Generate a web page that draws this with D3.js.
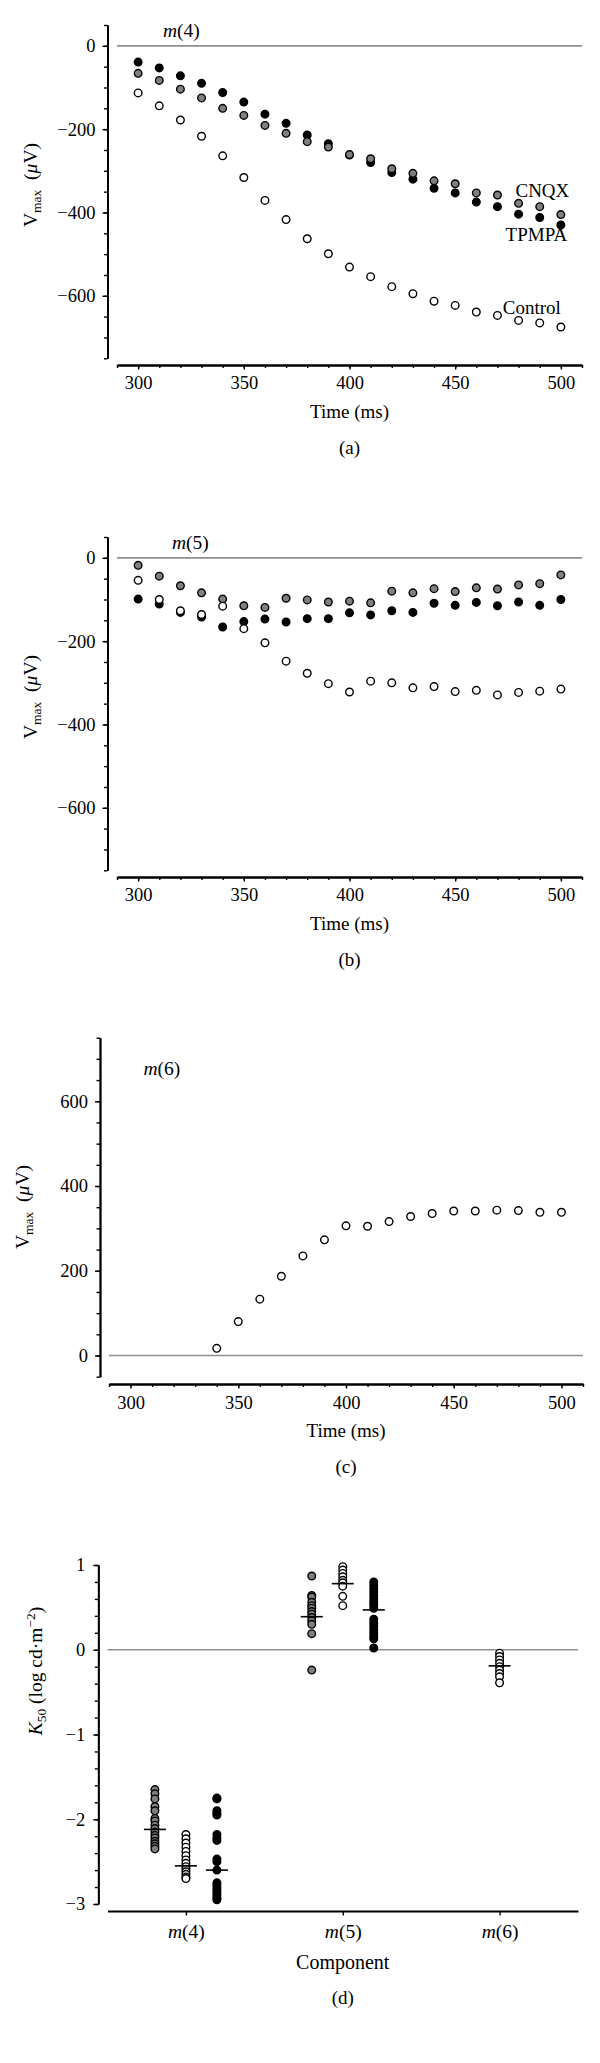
<!DOCTYPE html>
<html><head><meta charset="utf-8">
<script src="https://cdn.jsdelivr.net/npm/d3@7"></script>
<style>
body{margin:0;background:#fff}
svg{display:block}
text{font-family:"Liberation Serif","Times New Roman",serif;fill:#000}
</style></head><body>
<svg id="chart" width="600" height="2063"></svg>
<script>
// ---------- DATA ----------
const timesAB = [300,310,320,330,340,350,360,370,380,390,400,410,420,430,440,450,460,470,480,490,500];
const m4Control = [-113,-144,-178,-217,-264,-316,-371,-417,-463,-499,-531,-554,-578,-595,-613,-623,-639,-647,-659,-665,-675];
const m4CNQX    = [-66,-83,-104,-125,-150,-167,-191,-210,-230,-243,-261,-271,-295,-306,-324,-331,-353,-358,-378,-386,-405];
const m4TPMPA   = [-39,-53,-72,-90,-112,-135,-164,-186,-214,-235,-262,-280,-304,-320,-342,-353,-375,-386,-404,-412,-430];
const m5Control = [-54,-100,-127,-136,-116,-170,-204,-248,-277,-302,-322,-296,-300,-312,-309,-321,-318,-329,-323,-320,-315];
const m5CNQX    = [-18,-44,-67,-84,-99,-115,-119,-97,-101,-106,-104,-108,-80,-84,-74,-81,-72,-75,-65,-62,-41];
const m5TPMPA   = [-99,-111,-131,-142,-166,-153,-147,-154,-146,-146,-132,-137,-127,-131,-109,-114,-107,-115,-106,-114,-100];
const timesC    = [340,350,360,370,380,390,400,410,420,430,440,450,460,470,480,490,500];
const m6Control = [17,80,133,187,235,273,306,305,316,328,335,341,341,343,342,338,338];

const components = ["m(4)","m(5)","m(6)"];
const conditions = ["CNQX","Control","TPMPA"];
const m4K50CNQX    = [-1.65,-1.70,-1.76,-1.85,-1.90,-1.99,-2.02,-2.07,-2.11,-2.15,-2.19,-2.22,-2.26,-2.29,-2.32,-2.35];
const m4K50Control = [-2.18,-2.23,-2.28,-2.33,-2.38,-2.43,-2.48,-2.52,-2.56,-2.59,-2.62,-2.65,-2.68,-2.70];
const m4K50TPMPA   = [-1.75,-1.76,-1.90,-1.93,-1.95,-2.18,-2.22,-2.25,-2.47,-2.50,-2.60,-2.75,-2.78,-2.81,-2.84,-2.87,-2.90,-2.93,-2.95];
const m5K50CNQX    = [0.87,0.64,0.62,0.56,0.52,0.49,0.45,0.42,0.38,0.34,0.30,0.19,-0.24];
const m5K50Control = [0.98,0.94,0.90,0.86,0.82,0.79,0.75,0.63,0.52];
const m5K50TPMPA   = [0.80,0.76,0.72,0.68,0.64,0.60,0.56,0.53,0.49,0.36,0.32,0.28,0.24,0.20,0.16,0.13,0.02];
const m6K50Control = [-0.04,-0.08,-0.12,-0.16,-0.20,-0.24,-0.28,-0.32,-0.39];
const m4K50Medians = [-2.12,-2.55,-2.60];
const m5K50Medians = [0.39,0.78,0.47];
const m6K50Medians = [null,-0.19,null];

const xTimeMajor = [300,350,400,450,500];
const xTimeMinor = [290,300,310,320,330,340,350,360,370,380,390,400,410,420,430,440,450,460,470,480,490,500,510];
const yNegMajor = [0,-200,-400,-600];
const yNegMinor = [50,0,-50,-100,-150,-200,-250,-300,-350,-400,-450,-500,-550,-600,-650,-700,-750];
const yPosMajor = [0,200,400,600];
const yPosMinor = [-50,0,50,100,150,200,250,300,350,400,450,500,550,600,650,700,750];
const yKMajor = [1,0,-1,-2,-3];
const yKMinor = [1,0.8,0.6,0.4,0.2,0,-0.2,-0.4,-0.6,-0.8,-1,-1.2,-1.4,-1.6,-1.8,-2,-2.2,-2.4,-2.6,-2.8,-3];

// ---------- STYLE ----------
const FILL = {CNQX:"#7f7f7f", Control:"#ffffff", TPMPA:"#000000"};
const R = 3.8, SW = 1.4;
const SERIF = '"Liberation Serif","Times New Roman",serif';
const svg = d3.select("#chart");

function styleAxis(g, fs){
  g.attr("font-family", SERIF);
  g.select(".domain").attr("stroke","#000").attr("stroke-width",1.8);
  g.selectAll(".tick line").attr("stroke","#000").attr("stroke-width",1.4);
  g.selectAll(".tick text").style("font-size",fs+"px").style("font-family",SERIF).attr("fill","#000");
}

function mLabel(g, x, y, txt){
  const t = g.append("text").attr("x",x).attr("y",y).style("font-size","19.5px");
  t.append("tspan").style("font-style","italic").text("m");
  t.append("tspan").text(txt);
}

function vLabel(g, x, y){
  const t = g.append("text").attr("transform",`translate(${x},${y}) rotate(-90)`)
    .attr("text-anchor","middle").style("font-size","19.5px");
  t.append("tspan").text("V");
  t.append("tspan").attr("dy",4).style("font-size","13.5px").text("max");
  t.append("tspan").attr("dy",-4).text("\u2002(");
  t.append("tspan").style("font-style","italic").text("\u03bc");
  t.append("tspan").text("V)");
}

function timePanel(cfg){
  const g = svg.append("g");
  const x = d3.scaleLinear().domain([290,510]).range([cfg.x0,cfg.x1]);
  const y = d3.scaleLinear().domain(cfg.yDomain).range([cfg.yBottom,cfg.yTop]);
  g.append("line").attr("x1",x(290)).attr("x2",x(510)).attr("y1",y(0)).attr("y2",y(0))
    .attr("stroke","#8f8f8f").attr("stroke-width",1.7);
  // y axis
  const ya = g.append("g").attr("transform",`translate(${cfg.yAxisX},0)`);
  ya.append("g").call(d3.axisLeft(y).tickValues(cfg.yMinor).tickSize(3.5).tickSizeOuter(0).tickFormat("")).call(s=>styleAxis(s,18.5));
  ya.append("g").call(d3.axisLeft(y).tickValues(cfg.yMajor).tickSize(5).tickSizeOuter(0).tickPadding(7).tickFormat(d3.format("d"))).call(s=>styleAxis(s,18.5));
  // x axis
  const xa = g.append("g").attr("transform",`translate(0,${cfg.xAxisY})`);
  xa.append("g").call(d3.axisBottom(x).tickValues(xTimeMinor).tickSize(3).tickSizeOuter(0).tickFormat("")).call(s=>styleAxis(s,18.5));
  xa.append("g").call(d3.axisBottom(x).tickValues(xTimeMajor).tickSize(4.5).tickSizeOuter(0).tickPadding(cfg.xPad).tickFormat(d3.format("d"))).call(s=>styleAxis(s,18.5));
  // series
  cfg.series.forEach(s=>{
    g.append("g").selectAll("circle").data(s.values.map((v,i)=>[s.times[i],v])).join("circle")
      .attr("cx",d=>x(d[0])).attr("cy",d=>y(d[1])).attr("r",R)
      .attr("fill",FILL[s.name]).attr("stroke","#000").attr("stroke-width",SW);
  });
  (cfg.notes||[]).forEach(n=>{
    g.append("text").attr("x",x(n.t)).attr("y",y(n.v)).attr("text-anchor","end").style("font-size","19px").text(n.name);
  });
  mLabel(g, cfg.mX, cfg.mY, cfg.mTxt);
  vLabel(g, cfg.vX, cfg.vY);
  const cx = (cfg.x0+cfg.x1)/2;
  g.append("text").attr("x",cx).attr("y",cfg.xAxisY+53).attr("text-anchor","middle").style("font-size","19px").text("Time (ms)");
  g.append("text").attr("x",cx).attr("y",cfg.xAxisY+89).attr("text-anchor","middle").style("font-size","19px").text(cfg.letter);
}

timePanel({x0:117,x1:582,yTop:25,yBottom:358.3,yDomain:[-750,50],yAxisX:107.5,xAxisY:365,xPad:6,
  yMajor:yNegMajor,yMinor:yNegMinor,
  series:[{name:"TPMPA",times:timesAB,values:m4TPMPA},{name:"CNQX",times:timesAB,values:m4CNQX},{name:"Control",times:timesAB,values:m4Control}],
  notes:[{name:"CNQX",t:504,v:-362},{name:"TPMPA",t:503,v:-468},{name:"Control",t:500,v:-643}],
  mX:163,mY:37,mTxt:"(4)",vX:37,vY:185,letter:"(a)"});

timePanel({x0:117,x1:582,yTop:537,yBottom:870.3,yDomain:[-750,50],yAxisX:107.5,xAxisY:877,xPad:6,
  yMajor:yNegMajor,yMinor:yNegMinor,
  series:[{name:"TPMPA",times:timesAB,values:m5TPMPA},{name:"CNQX",times:timesAB,values:m5CNQX},{name:"Control",times:timesAB,values:m5Control}],
  mX:172,mY:549,mTxt:"(5)",vX:37,vY:697,letter:"(b)"});

timePanel({x0:109,x1:583,yTop:1037.7,yBottom:1376.7,yDomain:[-50,750],yAxisX:100,xAxisY:1384,xPad:7,
  yMajor:yPosMajor,yMinor:yPosMinor,
  series:[{name:"Control",times:timesC,values:m6Control}],
  mX:143.5,mY:1075,mTxt:"(6)",vX:29,vY:1207,letter:"(c)"});

// ---------- PANEL (d) ----------
(function(){
  const g = svg.append("g");
  const x = d3.scalePoint().domain(components).range([107.5,578]).padding(0.5);
  const y = d3.scaleLinear().domain([-3,1]).range([1904,1565]);
  g.append("line").attr("x1",107.5).attr("x2",578).attr("y1",y(0)).attr("y2",y(0)).attr("stroke","#8f8f8f").attr("stroke-width",1.7);
  const ya = g.append("g").attr("transform","translate(98.3,0)");
  ya.append("g").call(d3.axisLeft(y).tickValues(yKMinor).tickSize(3.5).tickSizeOuter(0).tickFormat("")).call(s=>styleAxis(s,18.5));
  ya.append("g").call(d3.axisLeft(y).tickValues(yKMajor).tickSize(5).tickSizeOuter(0).tickPadding(8).tickFormat(d3.format("d"))).call(s=>styleAxis(s,18.5));
  const xa = g.append("g").attr("transform","translate(0,1911)");
  xa.call(d3.axisBottom(x).tickSize(4.5).tickSizeOuter(0).tickPadding(9).tickFormat("")).call(s=>styleAxis(s,18.5));
  xa.selectAll(".tick").each(function(d){
    const t = d3.select(this).append("text").attr("y",27).attr("text-anchor","middle")
      .style("font-size","19.5px").style("font-family",SERIF).attr("fill","#000");
    t.append("tspan").style("font-style","italic").text("m");
    t.append("tspan").text(d.slice(1));
  });
  const offs = d3.scalePoint().domain(conditions).range([-31,31]);
  const groups = [
    {c:"m(4)",cond:"CNQX",vals:m4K50CNQX},{c:"m(4)",cond:"Control",vals:m4K50Control},{c:"m(4)",cond:"TPMPA",vals:m4K50TPMPA},
    {c:"m(5)",cond:"CNQX",vals:m5K50CNQX},{c:"m(5)",cond:"Control",vals:m5K50Control},{c:"m(5)",cond:"TPMPA",vals:m5K50TPMPA},
    {c:"m(6)",cond:"Control",vals:m6K50Control}
  ];
  groups.forEach(gr=>{
    const cx = x(gr.c)+offs(gr.cond);
    g.append("g").selectAll("circle").data(gr.vals).join("circle")
      .attr("cx",cx).attr("cy",d=>y(d)).attr("r",R)
      .attr("fill",FILL[gr.cond]).attr("stroke","#000").attr("stroke-width",SW);
  });
  const meds = [["m(4)",m4K50Medians],["m(5)",m5K50Medians],["m(6)",m6K50Medians]];
  meds.forEach(([c,arr])=>{
    arr.forEach((m,i)=>{
      if(m===null) return;
      const cx = x(c)+offs(conditions[i]);
      g.append("line").attr("x1",cx-11).attr("x2",cx+11).attr("y1",y(m)).attr("y2",y(m)).attr("stroke","#000").attr("stroke-width",1.6);
    });
  });
  // y label
  const t = g.append("text").attr("transform","translate(42,1671) rotate(-90)").attr("text-anchor","middle").style("font-size","19.5px");
  t.append("tspan").style("font-style","italic").text("K");
  t.append("tspan").attr("dy",4).style("font-size","13.5px").text("50");
  t.append("tspan").attr("dy",-4).text(" (log cd\u00b7m");
  t.append("tspan").attr("dy",-7).style("font-size","13.5px").text("\u22122");
  t.append("tspan").attr("dy",7).text(")");
  const cxm = (107.5+578)/2;
  g.append("text").attr("x",cxm).attr("y",1969).attr("text-anchor","middle").style("font-size","20px").text("Component");
  g.append("text").attr("x",cxm).attr("y",2004).attr("text-anchor","middle").style("font-size","19px").text("(d)");
})();
</script>
</body></html>
